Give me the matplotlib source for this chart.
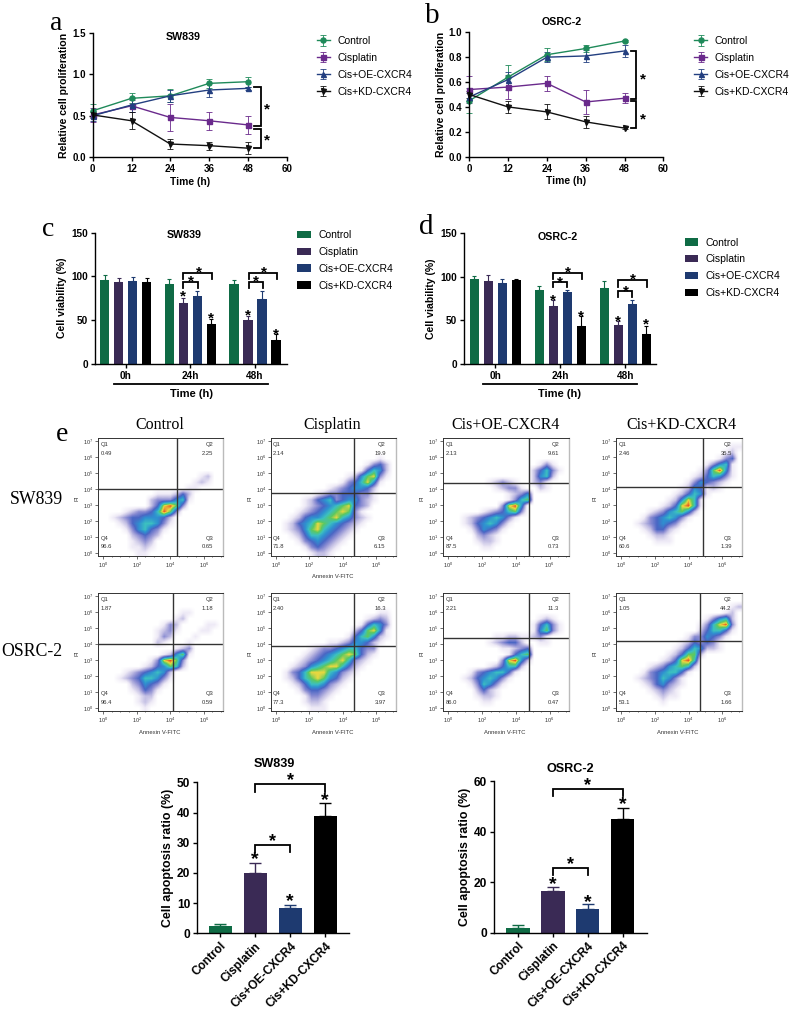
import numpy as np
import matplotlib
matplotlib.use('Agg')
import matplotlib.pyplot as plt
from matplotlib.colors import LinearSegmentedColormap

plt.rcParams['font.family'] = ['Liberation Sans', 'DejaVu Sans']
plt.rcParams['mathtext.default'] = 'regular'

W, H = 800, 1023

groups = ['Control', 'Cisplatin', 'Cis+OE-CXCR4', 'Cis+KD-CXCR4']
hours = [0, 12, 24, 36, 48]

# a - proliferation SW839
a_control = [0.56, 0.71, 0.74, 0.89, 0.91]
a_cis = [0.51, 0.62, 0.48, 0.44, 0.39]
a_oe = [0.50, 0.63, 0.74, 0.81, 0.83]
a_kd = [0.51, 0.44, 0.16, 0.14, 0.11]
a_control_err = [0.08, 0.06, 0.08, 0.05, 0.06]
a_cis_err = [0.08, 0.07, 0.16, 0.11, 0.11]
a_oe_err = [0.06, 0.08, 0.07, 0.08, 0.02]
a_kd_err = [0.04, 0.10, 0.06, 0.05, 0.07]

# b - proliferation OSRC-2
b_control = [0.45, 0.64, 0.82, 0.87, 0.93]
b_cis = [0.54, 0.56, 0.59, 0.44, 0.47]
b_oe = [0.48, 0.62, 0.80, 0.81, 0.85]
b_kd = [0.50, 0.40, 0.36, 0.28, 0.23]
b_control_err = [0.10, 0.10, 0.05, 0.03, 0.01]
b_cis_err = [0.11, 0.10, 0.06, 0.10, 0.04]
b_oe_err = [0.03, 0.06, 0.04, 0.05, 0.05]
b_kd_err = [0.03, 0.05, 0.06, 0.05, 0.01]

# c, d - viability
times = ['0h', '24h', '48h']
c_control = [96, 91.5, 91]
c_cis = [94, 69, 50.5]
c_oe = [95, 78, 74.5]
c_kd = [93, 45, 27.5]
c_control_err = [5, 6, 5]
c_cis_err = [4, 6, 4]
c_oe_err = [4, 5, 9]
c_kd_err = [5, 6, 6]

d_control = [97.5, 85.5, 87]
d_cis = [95, 66, 44.5]
d_oe = [93, 82.5, 69]
d_kd = [96, 44, 34]
d_control_err = [3, 4, 8]
d_cis_err = [7, 7, 5]
d_oe_err = [4, 2, 5]
d_kd_err = [2, 11, 10]

# e - apoptosis bars
sw_apop = [2.5, 20, 8.5, 39]
sw_apop_err = [0.7, 3.3, 1, 4]
os_apop = [2, 16.5, 9.5, 45]
os_apop_err = [1.2, 1.7, 1.9, 4.2]

# e - flow plots: density read by eye on a 20x20 grid, 0 empty to 9 densest
sw_control_pct = ['0.49', '2.25', '0.65', '96.6']
sw_control_grid = ['0', '0', '0', '0', '0', '0',
    '00000000000000001200',
    '00000000000000012100',
    '00000000000000110000',
    '00000000011124200000',
    '00000000233356100000',
    '00000000248973000000',
    '00001233469730000000',
    '00123445554200000000',
    '00012456653100000000',
    '00001356431000000000',
    '00000234320000000000',
    '00000123200000000000',
    '00000112100000000000',
    '00000011000000000000']
sw_cis_pct = ['2.14', '19.9', '6.15', '71.8']
sw_cis_grid = ['0', '0', '0',
    '00000000000000000100',
    '00000000000000013420',
    '00000000000000146520',
    '00000000000012578310',
    '00000000000134685100',
    '00000000012345542000',
    '00000001233444331000',
    '00000124563455321000',
    '00000123456784320000',
    '00001234567873100000',
    '00012455678653210000',
    '00124568765432100000',
    '00123578654321000000',
    '00012466543210000000',
    '00001345432100000000',
    '00000134321000000000',
    '00000012210000000000']
sw_oe_pct = ['2.13', '9.61', '0.73', '87.5']
sw_oe_grid = ['0', '0', '0', '0',
    '00000000000000013100',
    '00000000000000246310',
    '00000000000000256200',
    '00000001232100231000',
    '00000000123310021000',
    '00000000001235000000',
    '00000000001367000000',
    '00000000038950000000',
    '00000012346730000000',
    '00012345653100000000',
    '00012456531000000000',
    '00001354310000000000',
    '00000232100000000000',
    '00000122100000000000',
    '00000011000000000000',
    '0']
sw_kd_pct = ['2.46', '35.5', '1.39', '60.6']
sw_kd_grid = ['0',
    '00000000000000000011',
    '00000000000000000120',
    '00000000000000001340',
    '00000000000000135610',
    '00000000000001379510',
    '00000000000012465310',
    '00000000000135432100',
    '00000000001254121000',
    '00000000012465100000',
    '00000000125861000000',
    '00000001248961000000',
    '00000123567520000000',
    '00001345653100000000',
    '00012345431000000000',
    '00001244210000000000',
    '00000122100000000000',
    '00000011100000000000',
    '0', '0']
os_control_pct = ['1.87', '1.18', '0.59', '96.4']
os_control_grid = ['0', '0', '0',
    '00000000000001100000',
    '00000000000012000000',
    '00000000001320000110',
    '00000000012310001100',
    '00000000013200010000',
    '00000000021000100000',
    '00000000000012300000',
    '00000000001257100000',
    '00000000138973000000',
    '00000001245762000000',
    '00001234565200000000',
    '00012346653100000000',
    '00000235431000000000',
    '00000124310000000000',
    '00000012200000000000',
    '00000012100000000000',
    '00000001000000000000']
os_cis_pct = ['2.40', '16.3', '3.97', '77.3']
os_cis_grid = ['0', '0', '0',
    '00000000000000000110',
    '00000000000000012320',
    '00000000000000146530',
    '00000000000002478510',
    '00000000000014675210',
    '00000000011235542100',
    '00000012334566433000',
    '00000123456787421000',
    '00001234567863210000',
    '00012356788642100000',
    '00134688865321000000',
    '00124678754210000000',
    '00012466532100000000',
    '00001344321000000000',
    '00000133210000000000',
    '00000122100000000000',
    '00000011100000000000']
os_oe_pct = ['2.21', '11.3', '0.47', '86.0']
os_oe_grid = ['0', '0', '0', '0',
    '00000000000000012100',
    '00000000000000146310',
    '00000000000000157310',
    '00000000112211231000',
    '00000001234420011000',
    '00000000011234000000',
    '00000000001467000000',
    '00000000038952000000',
    '00000001246620000000',
    '00001345664100000000',
    '00012456531000000000',
    '00001365310000000000',
    '00000242100000000000',
    '00000122100000000000',
    '00000011000000000000',
    '0']
os_kd_pct = ['1.05', '44.2', '1.66', '53.1']
os_kd_grid = ['0', '0',
    '00000000000000000012',
    '00000000000000000120',
    '00000000000000135620',
    '00000000000001368930',
    '00000000000002466410',
    '00000000000133543100',
    '00000000001243431000',
    '00000000012465221000',
    '00000000124772000000',
    '00000001248960000000',
    '00000123567620000000',
    '00001345664100000000',
    '00012346531000000000',
    '00001245321000000000',
    '00000123210000000000',
    '00000012110000000000',
    '00000001000000000000',
    '0']

line_colors = ['#1f8a5a', '#6a2a8c', '#233f80', '#111111']
bar_colors = ['#0f6b45', '#3a2a55', '#1e3a70', '#000000']
flow_cmap = LinearSegmentedColormap.from_list('flow', ['#ffffff', '#eeeaf6', '#c4c0e4', '#8a8cd2', '#4a66c4',
                                                       '#2f8fd0', '#3cc0c0', '#5cc860', '#e8d840', '#e85020'])

fig = plt.figure(figsize=(W / 100, H / 100), dpi=100)


def px_axes(l, t, r, b):
    ax = fig.add_axes([l / W, 1 - b / H, (r - l) / W, (b - t) / H])
    ax.patch.set_alpha(0)
    return ax


def px_text(x, y, s, **kw):
    fig.text(x / W, 1 - y / H, s, ha='center', va='center', **kw)


def clean(ax, size):
    ax.spines['top'].set_visible(False)
    ax.spines['right'].set_visible(False)
    ax.spines['left'].set_linewidth(1)
    ax.spines['bottom'].set_linewidth(1)
    ax.tick_params(width=1, length=3, labelsize=size, pad=2)
    for t in ax.get_xticklabels() + ax.get_yticklabels():
        t.set_fontweight('bold')


def star(ax, x, y, size=11):
    ax.text(x, y, '*', ha='center', va='center', fontsize=size, fontweight='bold', clip_on=False)


def bracket(ax, x0, x1, top, low):
    ax.plot([x0, x0, x1, x1], [low, top, top, low], color='black', lw=1.3, clip_on=False, solid_joinstyle='miter')


def side_bracket(ax, x0, x1, top, low):
    ax.plot([x0, x1, x1, x0], [top, top, low, low], color='black', lw=1.3, clip_on=False, solid_joinstyle='miter')


def line_panel(box, series, errs, ymax, yticks, yfmt):
    ax = px_axes(*box)
    markers = ['o', 's', '^', 'v']
    for i in range(4):
        ax.errorbar(hours, series[i], yerr=errs[i], color=line_colors[i], lw=1, elinewidth=0.6, capsize=2.5,
                    capthick=0.6, marker=markers[i], ms=3.6, clip_on=False, label=groups[i])
    ax.set_xlim(0, 60)
    ax.set_ylim(0, ymax)
    ax.set_xticks(range(0, 61, 12))
    ax.set_yticks(yticks)
    ax.set_yticklabels([yfmt % v for v in yticks])
    clean(ax, 7)
    ax.set_xlabel('Time (h)', fontsize=7.4, fontweight='bold', labelpad=2)
    ax.set_ylabel('Relative cell proliferation', fontsize=7.6, fontweight='bold', labelpad=2)
    return ax


def bar_panel(box, series, errs, xlim, gaps, under):
    ax = px_axes(*box)
    for i in range(4):
        xs = [g + i for g in gaps]
        ax.bar(xs, series[i], width=0.66, color=bar_colors[i], label=groups[i])
        ax.errorbar(xs, series[i], yerr=[[0] * 3, errs[i]], fmt='none', ecolor=bar_colors[i], elinewidth=0.8,
                    capsize=1.6, capthick=0.8)
    ax.set_xlim(*xlim)
    ax.set_ylim(0, 150)
    ax.set_xticks([g + 1.5 for g in gaps])
    ax.set_xticklabels(times)
    ax.set_yticks([0, 50, 100, 150])
    clean(ax, 7.2)
    ax.set_ylabel('Cell viability (%)', fontsize=7.6, fontweight='bold', labelpad=3)
    ax.plot(under, [-0.155, -0.155], transform=ax.get_xaxis_transform(), color='black', lw=1.3, clip_on=False)
    return ax


def apop_panel(box, vals, errs, xlim, ymax, yticks):
    ax = px_axes(*box)
    xs = np.arange(4)
    ax.bar(xs, vals, width=0.66, color=bar_colors)
    for i in range(4):
        ax.errorbar(xs[i], vals[i], yerr=[[0], [errs[i]]], fmt='none', ecolor=bar_colors[i], elinewidth=1,
                    capsize=4, capthick=1)
    ax.set_xlim(*xlim)
    ax.set_ylim(0, ymax)
    ax.set_xticks(xs)
    ax.set_xticklabels(groups, rotation=45, ha='right', rotation_mode='anchor')
    ax.set_yticks(yticks)
    clean(ax, 8.6)
    ax.set_ylabel('Cell apoptosis ratio (%)', fontsize=8.9, fontweight='bold', labelpad=2)
    return ax


def flow_panel(box, grid, pct, vgate, hgate, xlabel):
    ax = px_axes(*box)
    ax.patch.set_alpha(1)
    rows = [[int(c) for c in r.ljust(20, '0')] for r in grid]
    ax.imshow(rows, cmap=flow_cmap, vmin=0, vmax=9, extent=(-0.3, 7.15, -0.17, 7.2), aspect='auto',
              interpolation='bilinear', origin='upper')
    ax.axvline(vgate, color='#333333', lw=1)
    ax.axhline(hgate, color='#333333', lw=1)
    ax.set_xlim(-0.3, 7.15)
    ax.set_ylim(-0.17, 7.2)
    ax.set_xticks([0, 2, 4, 6])
    ax.set_xticklabels(['$10^{%d}$' % v for v in [0, 2, 4, 6]])
    ax.set_yticks(range(8))
    ax.set_yticklabels(['$10^{%d}$' % v for v in range(8)])
    ax.set_xticks(np.arange(0, 7.01, 0.5), minor=True)
    ax.tick_params(labelsize=4, length=2, width=0.5, pad=1.5, colors='#333333')
    ax.tick_params(which='minor', length=1, width=0.4)
    for side in ax.spines:
        ax.spines[side].set_linewidth(0.7)
        ax.spines[side].set_color('#333333')
    ax.spines['right'].set_color('#bbbbbb')
    ax.spines['right'].set_linewidth(1)
    l, t, r, b = box
    sty = dict(fontsize=4.2, color='#333333', va='center')
    fig.text((l + 2.5) / W, 1 - (t + 6.7) / H, 'Q1', **sty)
    fig.text((l + 2.5) / W, 1 - (t + 15.7) / H, pct[0], **sty)
    fig.text((r - 10) / W, 1 - (t + 6.7) / H, 'Q2', ha='right', **sty)
    fig.text((r - 10) / W, 1 - (t + 15.7) / H, pct[1], ha='right', **sty)
    fig.text((r - 10) / W, 1 - (b - 17) / H, 'Q3', ha='right', **sty)
    fig.text((r - 10) / W, 1 - (b - 8.7) / H, pct[2], ha='right', **sty)
    fig.text((l + 2.5) / W, 1 - (b - 17) / H, 'Q4', **sty)
    fig.text((l + 2.5) / W, 1 - (b - 8.7) / H, pct[3], **sty)
    px_text(l - 21, (t + b) / 2 + 1, 'PI', fontsize=4.2, rotation=90, color='#333333')
    if xlabel:
        px_text((l + r) / 2 - 1, b + 21, 'Annexin V-FITC', fontsize=4.2, color='#333333')
    return ax


def px_legend(ax, x, y):
    h, lab = ax.get_legend_handles_labels()
    ax.legend(h, lab, loc='upper left', bbox_to_anchor=(x / W, 1 - y / H), bbox_transform=fig.transFigure,
              frameon=False, fontsize=7.5, borderpad=0, borderaxespad=0, labelspacing=0.66, handlelength=1.28,
              handletextpad=0.72, handleheight=0.7)


# a
ax = line_panel((92.7, 32.7, 286.7, 157.3), [a_control, a_cis, a_oe, a_kd],
                [a_control_err, a_cis_err, a_oe_err, a_kd_err], 1.5, [0, 0.5, 1.0, 1.5], '%.1f')
px_legend(ax, 316.7, 36)
side_bracket(ax, 50, 52, 0.85, 0.38)
side_bracket(ax, 50, 52, 0.34, 0.11)
star(ax, 54, 0.58)
star(ax, 54, 0.2)

# b
ax = line_panel((469.3, 32.3, 663.3, 156.7), [b_control, b_cis, b_oe, b_kd],
                [b_control_err, b_cis_err, b_oe_err, b_kd_err], 1.0, [0, 0.2, 0.4, 0.6, 0.8, 1.0], '%.1f')
px_legend(ax, 694, 36)
side_bracket(ax, 49.9, 51.6, 0.85, 0.46)
side_bracket(ax, 49.9, 51.6, 0.45, 0.23)
star(ax, 53.6, 0.62)
star(ax, 53.6, 0.3)

# c
gaps_c = [0, 4.62, 9.24]
ax = bar_panel((95, 232.7, 286.7, 363.7), [c_control, c_cis, c_oe, c_kd],
               [c_control_err, c_cis_err, c_oe_err, c_kd_err], (-0.69, 13), gaps_c, [0.69, 11.69])
px_legend(ax, 297.3, 230)
px_text(191, 393.7, 'Time (h)', fontsize=8, fontweight='bold')
bracket(ax, 5.63, 7.65, 103.4, 97)
bracket(ax, 5.63, 6.65, 93, 87)
star(ax, 6.15, 93.8)
star(ax, 6.72, 105)
bracket(ax, 10.3, 12.3, 103.4, 97)
bracket(ax, 10.3, 11.3, 93, 87)
star(ax, 10.8, 93.8)
star(ax, 11.35, 105)
star(ax, 5.62, 76.6)
star(ax, 7.62, 51.4)
star(ax, 10.24, 55)
star(ax, 12.24, 33.4)

# d
gaps_d = [0, 4.64, 9.29]
ax = bar_panel((464.3, 233.3, 656, 364), [d_control, d_cis, d_oe, d_kd],
               [d_control_err, d_cis_err, d_oe_err, d_kd_err], (-0.71, 12.98), gaps_d, [0.6, 11.6])
px_legend(ax, 685, 237.5)
px_text(559, 393.7, 'Time (h)', fontsize=8, fontweight='bold')
bracket(ax, 5.64, 7.7, 105, 97)
bracket(ax, 5.64, 6.64, 94, 88)
star(ax, 6.14, 94)
star(ax, 6.72, 105.4)
bracket(ax, 10.29, 12.33, 96, 88)
bracket(ax, 10.29, 11.29, 83.5, 76.6)
star(ax, 10.8, 83)
star(ax, 11.35, 97)
star(ax, 5.64, 72.8)
star(ax, 7.64, 54.5)
star(ax, 10.29, 49)
star(ax, 12.29, 45)

# titles of the top panels
px_text(183, 36.7, 'SW839', fontsize=7.7, fontweight='bold')
px_text(561.7, 21.7, 'OSRC-2', fontsize=7.7, fontweight='bold')
px_text(184, 235.3, 'SW839', fontsize=7.7, fontweight='bold')
px_text(557.3, 236.7, 'OSRC-2', fontsize=7.7, fontweight='bold')

# e flow plots
flow_panel((98.3, 438, 223.3, 555.7), sw_control_grid, sw_control_pct, 4.4, 4.0, False)
flow_panel((270.7, 438, 395.7, 555.7), sw_cis_grid, sw_cis_pct, 4.65, 3.75, True)
flow_panel((443.3, 438, 569, 555.7), sw_oe_grid, sw_oe_pct, 4.8, 4.4, False)
flow_panel((616, 438, 741.7, 555.7), sw_kd_grid, sw_kd_pct, 4.85, 4.15, False)
flow_panel((98.3, 592.7, 223.3, 711), os_control_grid, os_control_pct, 4.15, 4.0, True)
flow_panel((270.7, 592.7, 395.7, 711), os_cis_grid, os_cis_pct, 4.65, 3.9, True)
flow_panel((443.3, 592.7, 569, 711), os_oe_grid, os_oe_pct, 4.8, 4.35, True)
flow_panel((616, 592.7, 741.7, 711), os_kd_grid, os_kd_pct, 4.65, 4.2, True)

serif = ['Liberation Serif', 'DejaVu Serif']
px_text(160, 425, 'Control', fontsize=11.5, family=serif)
px_text(331.7, 425, 'Cisplatin', fontsize=11.5, family=serif)
px_text(505.7, 425, 'Cis+OE-CXCR4', fontsize=11.5, family=serif)
px_text(681, 425, 'Cis+KD-CXCR4', fontsize=11.5, family=serif)
px_text(36.7, 500, 'SW839', fontsize=12.8, family=serif)
px_text(32.3, 651, 'OSRC-2', fontsize=12.8, family=serif)

px_text(56, 23, 'a', fontsize=20, family=serif)
px_text(432, 16, 'b', fontsize=21, family=serif)
px_text(48, 229, 'c', fontsize=20, family=serif)
px_text(426, 227, 'd', fontsize=21, family=serif)
px_text(61.7, 434, 'e', fontsize=20, family=serif)

# e apoptosis bars
ax = apop_panel((197.3, 782.3, 349, 933.3), sw_apop, sw_apop_err, (-0.657, 3.68), 50, [0, 10, 20, 30, 40, 50])
bracket(ax, 1, 3, 49.3, 46.9)
bracket(ax, 1, 2, 29.2, 27)
star(ax, 2, 50.5, 13)
star(ax, 1.5, 30.5, 13)
star(ax, 1, 24.5, 14)
star(ax, 2, 10.5, 14)
star(ax, 3, 44, 14)
px_text(274.3, 764.3, 'SW839', fontsize=9.1, fontweight='bold')

ax = apop_panel((494.3, 781, 646.7, 932.7), os_apop, os_apop_err, (-0.677, 3.68), 60, [0, 20, 40, 60])
bracket(ax, 1, 3, 56.7, 54)
bracket(ax, 1, 2, 25.6, 22.8)
star(ax, 2, 58, 13)
star(ax, 1.5, 27, 13)
star(ax, 1, 19, 14)
star(ax, 2, 12, 14)
star(ax, 3, 50.5, 14)
px_text(570, 769.3, 'OSRC-2', fontsize=9.1, fontweight='bold')

fig.savefig('out.png', dpi=100)
